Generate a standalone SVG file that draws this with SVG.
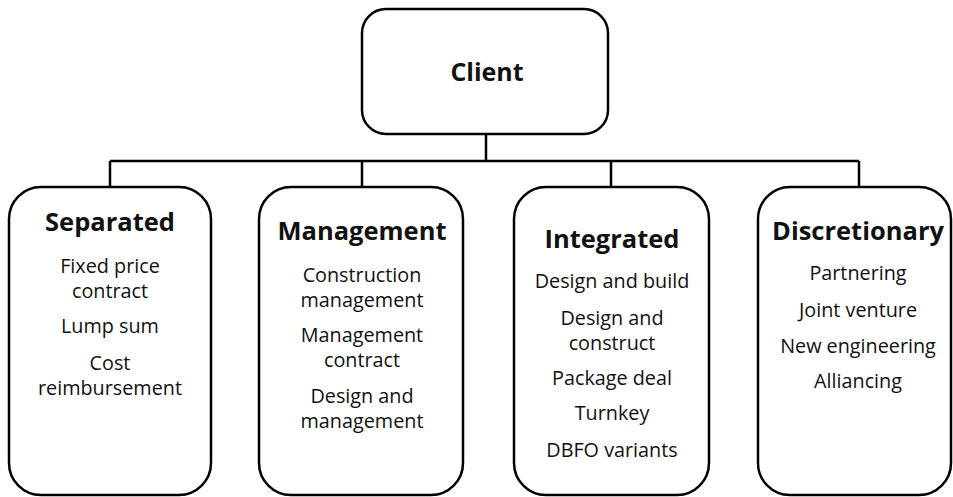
<svg xmlns="http://www.w3.org/2000/svg" width="953" height="497" viewBox="0 0 953 497">
<style>
.box{fill:#fff;stroke:#000;stroke-width:2.5}
.conn{fill:none;stroke:#000;stroke-width:2.5}
text{font-family:"Open Sans",Lato,"Liberation Sans",sans-serif;text-anchor:middle;fill:#111}
.h{font-weight:bold;font-size:25.5px}
.c{font-weight:bold;font-size:25px}
.i{font-size:19.8px}
</style>
<rect width="953" height="497" fill="#fff"/>
<g id="connectors">
<path class="conn" d="M486 134V161M110 161H859M110 161V187M362 161V187M611 161V187M859 161V187"/>
</g>
<g id="client">
<rect class="box" x="362" y="9" width="246" height="125" rx="24"/>
<text class="c" x="487" y="81">Client</text>
</g>
<g id="separated">
<rect class="box" x="9" y="187" width="202" height="308" rx="32"/>
<text class="h" x="110" y="231">Separated</text>
<text class="i" x="110" y="273">Fixed price</text>
<text class="i" x="110" y="298">contract</text>
<text class="i" x="110" y="333">Lump sum</text>
<text class="i" x="110" y="370">Cost</text>
<text class="i" x="110" y="395">reimbursement</text>
</g>
<g id="management">
<rect class="box" x="259" y="187" width="204" height="308" rx="32"/>
<text class="h" x="362" y="240">Management</text>
<text class="i" x="362" y="282">Construction</text>
<text class="i" x="362" y="307">management</text>
<text class="i" x="362" y="342">Management</text>
<text class="i" x="362" y="367">contract</text>
<text class="i" x="362" y="403">Design and</text>
<text class="i" x="362" y="428">management</text>
</g>
<g id="integrated">
<rect class="box" x="514" y="187" width="195" height="308" rx="32"/>
<text class="h" x="612" y="248">Integrated</text>
<text class="i" x="612" y="288">Design and build</text>
<text class="i" x="612" y="325">Design and</text>
<text class="i" x="612" y="350">construct</text>
<text class="i" x="612" y="385">Package deal</text>
<text class="i" x="612" y="420">Turnkey</text>
<text class="i" x="612" y="457">DBFO variants</text>
</g>
<g id="discretionary">
<rect class="box" x="758" y="187" width="193" height="308" rx="32"/>
<text class="h" x="858" y="240">Discretionary</text>
<text class="i" x="858" y="280">Partnering</text>
<text class="i" x="858" y="317">Joint venture</text>
<text class="i" x="858" y="353">New engineering</text>
<text class="i" x="858" y="388">Alliancing</text>
</g>
</svg>
